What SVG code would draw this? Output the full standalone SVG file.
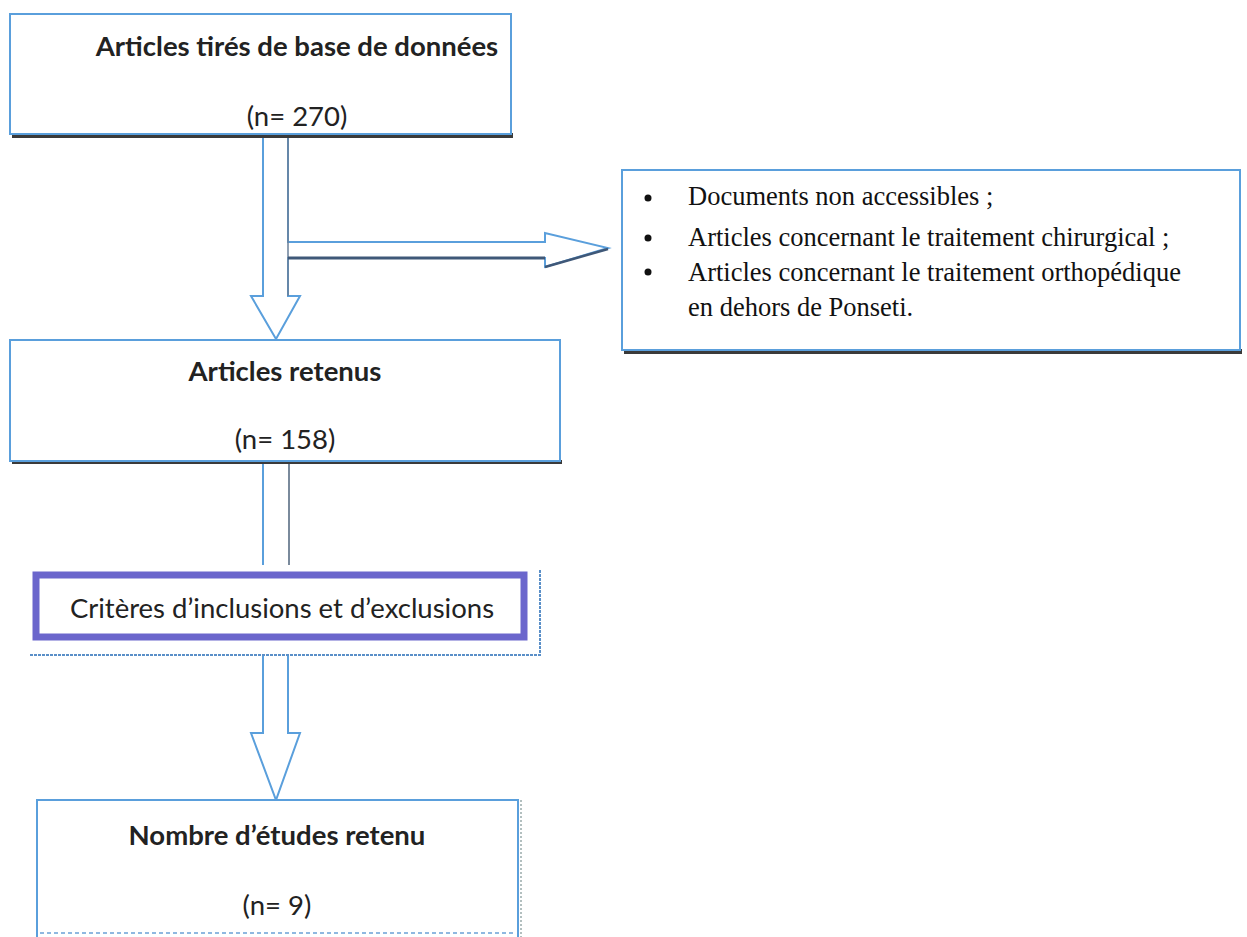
<svg xmlns="http://www.w3.org/2000/svg" width="1247" height="937" viewBox="0 0 1247 937">
<style>
.box{fill:#fff;stroke:#5a9fdc;stroke-width:2}
.shadow{fill:#3a3a3a}
.arrow{fill:#fff;stroke:#5a9fdc;stroke-width:2;stroke-linejoin:miter}
.t{font-family:Lato,"Liberation Sans",sans-serif;font-size:27.5px;fill:#222;text-anchor:middle}
.b{font-weight:bold}
.s{font-family:"Liberation Serif","Times New Roman",serif;font-size:26.5px;fill:#111}
</style>
<rect width="1247" height="937" fill="#fff"/>
<g id="connectors">
  <path class="arrow" d="M263,135 V296 H251 L276,339 L300,296 H288 V258 H545 V267 L608,248 L545,233 V242 H288 V135"/>
  <line x1="288" y1="135" x2="288" y2="296" stroke="#6a7f99" stroke-width="1.5"/>
  <line x1="288" y1="258" x2="545" y2="258" stroke="#3f5878" stroke-width="3"/>
  <line x1="545" y1="267" x2="608" y2="249" stroke="#3f5878" stroke-width="2.5"/>
  <line x1="263" y1="463" x2="263" y2="565" stroke="#5a9fdc" stroke-width="2"/>
  <line x1="289" y1="463" x2="289" y2="565" stroke="#7a8a9c" stroke-width="2"/>
  <path class="arrow" d="M263,655 V733 H251 L276,800 L300,733 H288 V655"/>
</g>
<g id="node1">
  <rect class="shadow" x="12" y="133" width="501" height="5"/>
  <rect class="box" x="10" y="14" width="501" height="120"/>
  <text class="t b" x="297" y="56">Articles tirés de base de données</text>
  <text class="t" x="297" y="126">(n= 270)</text>
</g>
<g id="node2">
  <rect class="shadow" x="12" y="460" width="550" height="4"/>
  <rect class="box" x="10" y="340" width="550" height="121"/>
  <text class="t b" x="285" y="381">Articles retenus</text>
  <text class="t" x="285" y="449">(n= 158)</text>
</g>
<g id="node3">
  <rect class="shadow" x="624" y="349" width="618" height="5"/>
  <rect class="box" x="622" y="170" width="618" height="180"/>
  <g class="s">
    <circle cx="648" cy="198" r="3.5" fill="#111"/>
    <circle cx="648" cy="238" r="3.5" fill="#111"/>
    <circle cx="648" cy="272" r="3.5" fill="#111"/>
    <text x="688" y="205">Documents non accessibles ;</text>
    <text x="688" y="246">Articles concernant le traitement chirurgical ;</text>
    <text x="688" y="281">Articles concernant le traitement orthopédique</text>
    <text x="688" y="316">en dehors de Ponseti.</text>
  </g>
</g>
<g id="node4">
  <path d="M30,655 H540 V570" fill="none" stroke="#5a8fc8" stroke-width="2" stroke-dasharray="3 1"/>
  <rect x="36" y="575" width="488" height="62" fill="#fff" stroke="#6b66cc" stroke-width="7"/>
  <text class="t" x="282" y="618">Critères d’inclusions et d’exclusions</text>
</g>
<g id="node5">
  <path class="box" d="M37,937 V800 H518 V937"/>
  <line x1="521" y1="800" x2="521" y2="937" stroke="#9aa" stroke-width="1.5" stroke-dasharray="2 2"/>
  <line x1="40" y1="933" x2="515" y2="933" stroke="#8fb8e0" stroke-width="2" stroke-dasharray="4 3"/>
  <text class="t b" x="277" y="845">Nombre d’études retenu</text>
  <text class="t" x="277" y="915">(n= 9)</text>
</g>
</svg>
